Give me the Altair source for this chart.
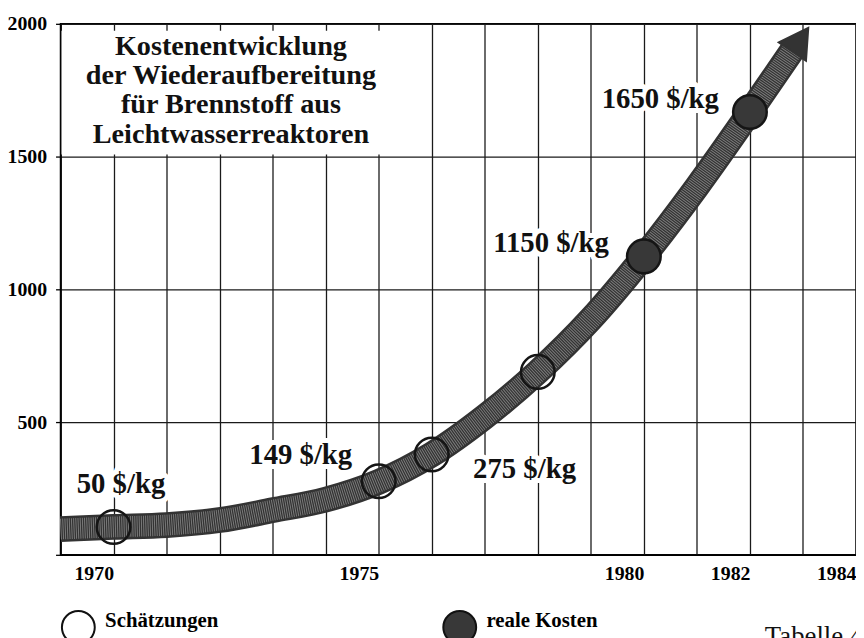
import altair as alt
import pandas as pd

# ---- data ----
curve_years = [1969, 1970, 1971, 1972, 1973, 1974, 1975, 1976, 1977, 1978, 1979, 1980, 1981, 1982, 1982.8]
curve_costs = [97, 105, 112, 131, 168, 208, 275, 378, 520, 689, 888, 1124, 1386, 1668, 1900]

point_years = [1970, 1975, 1976, 1978, 1980, 1982]
point_costs = [105, 277, 378, 689, 1124, 1668]
point_types = ["Schätzungen", "Schätzungen", "Schätzungen", "Schätzungen", "reale Kosten", "reale Kosten"]

arrow_years = [1982.95]
arrow_costs = [1940]

label_texts = ["50 $/kg", "149 $/kg", "275 $/kg", "1150 $/kg", "1650 $/kg"]
label_years = [1970.14, 1973.53, 1977.75, 1978.25, 1980.31]
label_costs = [266, 375, 322, 1176, 1715]

title_lines = ["Kostenentwicklung", "der Wiederaufbereitung", "für Brennstoff aus", "Leichtwasserreaktoren"]
x_grid_years = list(range(1969, 1985))
x_tick_labels = [1970, 1975, 1980, 1982, 1984]
y_ticks = [0, 500, 1000, 1500, 2000]
legend_types = ["Schätzungen", "reale Kosten"]
note_text = "Tabelle 4"

SERIF = "Liberation Serif"

curve_df = pd.DataFrame({"year": curve_years, "cost": curve_costs})
point_df = pd.DataFrame({"year": point_years, "cost": point_costs, "type": point_types})
arrow_df = pd.DataFrame({"year": arrow_years, "cost": arrow_costs})
label_df = pd.DataFrame({"year": label_years, "cost": label_costs, "text": label_texts})
one = pd.DataFrame({"k": [0]})

x_axis = alt.Axis(
    values=x_grid_years, format="d", title=None, ticks=False, grid=True,
    labelExpr=f"indexof({x_tick_labels}, datum.value) >= 0 ? datum.label : ''",
    labelAlign="right", labelBaseline="top", labelPadding=9,
    labelFlush=False, labelOverlap=False,
)
y_axis = alt.Axis(
    values=y_ticks, format="d", title=None, ticks=True, tickSize=5, grid=True,
    labelExpr="datum.value == 0 ? '' : datum.label", labelPadding=9,
    labelFlush=False, labelOverlap=False,
)
X = lambda: alt.X("year:Q", scale=alt.Scale(domain=[1969, 1984], nice=False, zero=False), axis=x_axis)
Y = lambda: alt.Y("cost:Q", scale=alt.Scale(domain=[0, 2000], nice=False, zero=True), axis=y_axis)

title_box = alt.Chart(one).mark_rect(fill="white").encode(
    x=alt.value(1), x2=alt.value(345), y=alt.value(7), y2=alt.value(132)
)

label_halo = alt.Chart(label_df).mark_text(
    font=SERIF, fontSize=29, fontWeight="bold", stroke="white", strokeWidth=10,
    strokeJoin="round", fill="white", align="center", baseline="middle"
).encode(x=X(), y=Y(), text="text:N")

band_base = alt.Chart(curve_df).mark_line(
    color="#333333", strokeWidth=26, interpolate="monotone", strokeCap="butt"
).encode(x=X(), y=Y())

band_tex = alt.Chart(curve_df).mark_line(
    color="#808080", strokeWidth=21, interpolate="monotone", strokeCap="butt",
    strokeDash=[0.9, 1.3]
).encode(x=X(), y=Y())

arrow = alt.Chart(arrow_df).mark_point(
    shape="triangle-up", filled=True, fill="#333333", stroke="#333333",
    size=1100, angle=34, opacity=1
).encode(x=X(), y=Y())

circles = alt.Chart(point_df).mark_point(
    shape="circle", filled=True, stroke="#151515", strokeWidth=2.5, size=1150,
    opacity=1
).encode(
    x=X(), y=Y(),
    fill=alt.Fill(
        "type:N",
        scale=alt.Scale(domain=legend_types, range=["rgba(0,0,0,0)", "#383838"]),
        legend=alt.Legend(
            title=None, orient="none", legendX=0, legendY=591,
            direction="horizontal", columns=2, columnPadding=222,
            symbolType="circle", symbolSize=1100, symbolStrokeWidth=2,
            symbolStrokeColor="#111111", symbolOpacity=1,
            labelFont=SERIF, labelFontSize=21, labelFontWeight="bold",
            labelBaseline="alphabetic",
            labelColor="black", labelOffset=9, padding=0, symbolOffset=0,
        ),
    ),
)

labels = alt.Chart(label_df).mark_text(
    font=SERIF, fontSize=29, fontWeight="bold", color="#111111",
    align="center", baseline="middle"
).encode(x=X(), y=Y(), text="text:N")

title_text = alt.Chart(one).mark_text(
    text=title_lines, font=SERIF, fontSize=28.5, fontWeight="bold", color="#111111",
    align="center", baseline="middle", lineHeight=29.7
).encode(x=alt.value(172), y=alt.value(22))

note = alt.Chart(one).mark_text(
    text=note_text, font=SERIF, fontSize=27, color="#111111",
    align="left", baseline="alphabetic"
).encode(x=alt.value(711), y=alt.value(627))

chart = alt.layer(
    title_box, label_halo, band_base, band_tex, arrow, circles, labels, title_text, note
).properties(
    width=803, height=536,
    autosize=alt.AutoSizeParams(type="none"),
    padding={"left": 53, "top": 13, "right": 0, "bottom": 81},
).configure_axis(
    domainColor="black", domainWidth=1.5, gridColor="#1a1a1a", gridWidth=1.3,
    gridOpacity=1, tickColor="black", tickWidth=1.3,
    labelFont=SERIF, labelFontSize=20, labelFontWeight="bold", labelColor="black",
).configure_view(stroke="black", strokeWidth=1.5)

chart.save("out.html", embed_options={"renderer": "svg", "actions": False})
